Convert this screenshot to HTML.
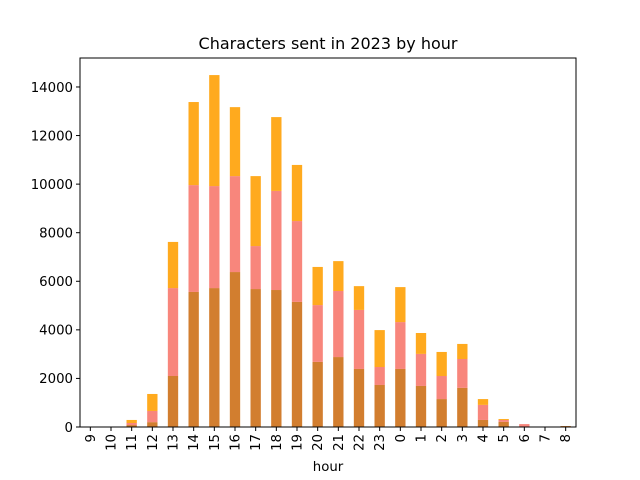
<!DOCTYPE html>
<html><head><meta charset="utf-8"><style>
body{margin:0;background:#fff}
svg{display:block;font-family:"DejaVu Sans","Liberation Sans",sans-serif}
</style></head><body>
<svg id="chart" width="640" height="480">
<text x="328" y="49" text-anchor="middle" font-size="16">Characters sent in 2023 by hour</text>
<text x="328" y="471" text-anchor="middle" font-size="13.3">hour</text>
<g id="bars"></g><g id="axes"></g>
<rect x="80" y="58" width="496" height="369" fill="none" stroke="#000" stroke-width="1"/>
</svg>
<script>
const categories=["9","10","11","12","13","14","15","16","17","18","19","20","21","22","23","0","1","2","3","4","5","6","7","8"];
const seriesA=[0,0,80,200,2100,5560,5720,6380,5680,5640,5150,2680,2880,2390,1730,2390,1690,1150,1610,290,210,0,0,40];
const seriesB=[0,0,85,460,3620,4400,4200,3950,1770,4080,3330,2340,2720,2430,740,1930,1320,950,1190,620,80,120,0,0];
const seriesC=[0,0,125,700,1900,3420,4570,2840,2880,3040,2310,1570,1230,980,1520,1440,860,990,620,240,40,0,0,0];
const yTicks=[0,2000,4000,6000,8000,10000,12000,14000];
const X0=80,X1=576,Y0=427,Y1=58,YMAX=15193;
const step=(X1-X0)/categories.length;
function xc(i){return X0+step*(i+0.5);}
function y(v){return Y0-(v/YMAX)*(Y0-Y1);}
const NS="http://www.w3.org/2000/svg";
const bars=document.getElementById('bars'),axes=document.getElementById('axes');
const colors=["#D27E2F","#F8867C","#FFAA1E"],names=["bar-segment-bottom","bar-segment-middle","bar-segment-top"];
const series=[seriesA,seriesB,seriesC];
categories.forEach((c,i)=>{
 let base=0;
 series.forEach((s,k)=>{
  const v=s[i];
  if(v>0){
   const r=document.createElementNS(NS,'rect');
   r.setAttribute('x',xc(i)-step*0.25);r.setAttribute('width',step*0.5);
   r.setAttribute('y',y(base+v));r.setAttribute('height',y(base)-y(base+v));
   r.setAttribute('fill',colors[k]);
   
   
   bars.appendChild(r);
  }
  base+=v;
 });
 const t=document.createElementNS(NS,'line');
 t.setAttribute('x1',xc(i));t.setAttribute('x2',xc(i));t.setAttribute('y1',Y0);t.setAttribute('y2',Y0+4);t.setAttribute('stroke','#000');
 
 
 axes.appendChild(t);
 const l=document.createElementNS(NS,'text');
 l.setAttribute('transform',`translate(${xc(i)+4.5},${Y0+7}) rotate(-90)`);
 l.setAttribute('text-anchor','end');l.setAttribute('font-size','13.3');l.textContent=c;
 
 
 axes.appendChild(l);
});
yTicks.forEach(v=>{
 const t=document.createElementNS(NS,'line');
 t.setAttribute('x1',X0-4);t.setAttribute('x2',X0);t.setAttribute('y1',y(v));t.setAttribute('y2',y(v));t.setAttribute('stroke','#000');
 
 
 axes.appendChild(t);
 const l=document.createElementNS(NS,'text');
 l.setAttribute('x',X0-7);l.setAttribute('y',y(v)+4.8);l.setAttribute('text-anchor','end');l.setAttribute('font-size','13.3');l.textContent=v;
 
 
 axes.appendChild(l);
});
</script>
</body></html>
